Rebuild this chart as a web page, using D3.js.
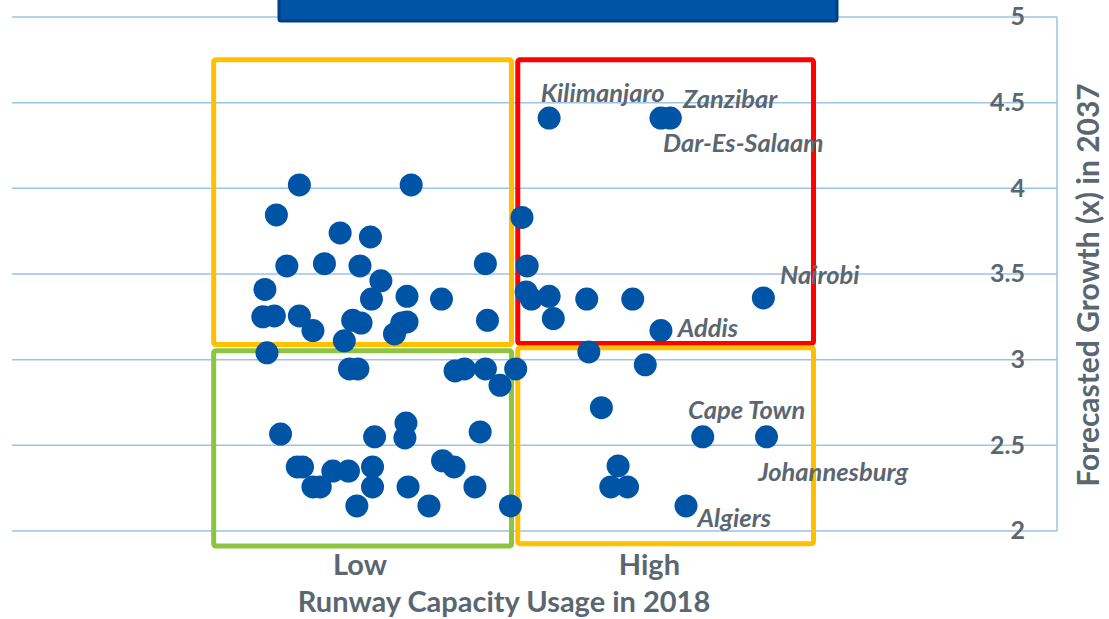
<!DOCTYPE html>
<html><head><meta charset="utf-8">
<script src="https://cdn.jsdelivr.net/npm/d3@7"></script>
<style>html,body{margin:0;padding:0;background:#fff;}svg{display:block;}</style>
</head><body>
<svg id="chart" width="1109" height="619"></svg>
<script>
// Runway capacity usage (arbitrary 0-100 units) vs forecasted growth
const pointX = [27.5,38.2,25.3,31.4,34.3,26.3,29.9,33.3,45.3,35.3,24.2,34.4,37.8,41.1,24.0,25.1,27.5,28.8,32.6,33.4,37.3,37.8,36.6,45.5,31.8,24.4,
  48.8,49.3,49.2,49.7,51.4,55.0,59.4,71.9,51.8,62.1,55.2,60.6,51.4,62.1,63.0,
  32.3,33.1,42.4,43.3,45.3,46.7,48.2,25.7,37.7,34.7,37.6,44.8,27.3,27.8,30.7,32.2,34.5,41.2,42.3,28.8,29.5,34.5,37.9,44.3,33.0,39.9,47.7,
  56.4,66.1,72.2,58.0,57.3,58.9,64.5];
const pointY = [4.02,4.02,3.845,3.74,3.716,3.547,3.56,3.547,3.56,3.46,3.41,3.354,3.37,3.354,3.25,3.255,3.255,3.17,3.23,3.214,3.214,3.22,3.15,3.23,3.11,3.04,
  3.83,3.547,3.395,3.354,3.37,3.354,3.354,3.36,3.24,3.17,3.045,2.97,4.41,4.41,4.41,
  2.946,2.946,2.934,2.946,2.946,2.85,2.946,2.566,2.63,2.55,2.543,2.578,2.374,2.374,2.35,2.35,2.374,2.41,2.374,2.257,2.257,2.257,2.257,2.257,2.146,2.146,2.146,
  2.72,2.55,2.55,2.38,2.257,2.257,2.146];

const labelNames = ["Kilimanjaro","Zanzibar","Dar-Es-Salaam","Nairobi","Addis","Cape Town","Johannesburg","Algiers"];
const labelX = [50.6,64.2,62.3,73.5,63.7,64.7,71.4,65.6];
const labelY = [4.504,4.469,4.212,3.442,3.133,2.654,2.292,2.023];

const yTicks = [2,2.5,3,3.5,4,4.5,5];
const xCategories = ["Low","High"];
const xCategoryPos = [33.3,61.0];

// quadrant boxes in data units: [x0,x1,y0,y1]
const boxNames = ["lowHighGrowth","highHighGrowth","lowLowGrowth","highLowGrowth"];
const boxX0 = [19.3,48.4,19.3,48.4];
const boxX1 = [47.8,76.7,47.8,76.7];
const boxY0 = [3.088,3.095,1.912,1.926];
const boxY1 = [4.75,4.75,3.052,3.07];
const boxColors = ["#ffc000","#ff0000","#8dc540","#ffc000"];

const xTitle = "Runway Capacity Usage in 2018";
const yTitle = "Forecasted Growth (x) in 2037";

const svg = d3.select("#chart");
const textColor = "#5b6770";
const font = "Lato, 'Open Sans', sans-serif";

const x = d3.scaleLinear().domain([0,100]).range([12,1057]);
const y = d3.scaleLinear().domain([2,5]).range([531,17]);

// gridlines
svg.append("g").selectAll("line").data(yTicks).join("line")
  .attr("x1", x(0)).attr("x2", x(100))
  .attr("y1", d=>y(d)).attr("y2", d=>y(d))
  .attr("stroke", "#9dc3e6").attr("stroke-width", 1.5);

// right axis line
svg.append("line").attr("x1", x(100)).attr("x2", x(100)).attr("y1", y(5)).attr("y2", y(2))
  .attr("stroke", "#9dc3e6").attr("stroke-width", 1.5);

// tick labels
svg.append("g").selectAll("text").data(yTicks).join("text")
  .attr("x", 1025).attr("y", d=>y(d)+2)
  .attr("text-anchor","end").attr("dominant-baseline","middle")
  .attr("font-family", font).attr("font-weight","bold").attr("font-size", 25)
  .attr("fill", textColor)
  .text(d=>d);

// title bar at top
svg.append("rect").attr("x", 279).attr("y", -10).attr("width", 558).attr("height", 31)
  .attr("rx", 2).attr("fill", "#0054a6").attr("stroke", "#003f80").attr("stroke-width", 3);

// quadrant boxes
svg.append("g").selectAll("rect").data(boxNames).join("rect")
  .attr("x", (d,i)=>x(boxX0[i])).attr("y", (d,i)=>y(boxY1[i]))
  .attr("width", (d,i)=>x(boxX1[i])-x(boxX0[i]))
  .attr("height", (d,i)=>y(boxY0[i])-y(boxY1[i]))
  .attr("rx", 2).attr("fill","none")
  .attr("stroke", (d,i)=>boxColors[i]).attr("stroke-width", 5);

// points
svg.append("g").selectAll("circle").data(pointX).join("circle")
  .attr("cx", d=>x(d)).attr("cy", (d,i)=>y(pointY[i]))
  .attr("r", 11.5).attr("fill", "#0054a6");

// labels
svg.append("g").selectAll("text").data(labelNames).join("text")
  .attr("x", (d,i)=>x(labelX[i])).attr("y", (d,i)=>y(labelY[i]))
  .attr("font-family", font).attr("font-weight","bold").attr("font-style","italic")
  .attr("font-size", 25.5).attr("fill", textColor)
  .text(d=>d);

// x categories
svg.append("g").selectAll("text").data(xCategories).join("text")
  .attr("x", (d,i)=>x(xCategoryPos[i])).attr("y", 575)
  .attr("text-anchor","middle")
  .attr("font-family", font).attr("font-weight","bold").attr("font-size", 29)
  .attr("fill", textColor).text(d=>d);

// axis titles
svg.append("text").attr("x", 504).attr("y", 612).attr("text-anchor","middle")
  .attr("font-family", font).attr("font-weight","bold").attr("font-size", 29)
  .attr("fill", textColor).text(xTitle);

svg.append("text").attr("transform","translate(1099,285) rotate(-90)")
  .attr("text-anchor","middle")
  .attr("font-family", font).attr("font-weight","bold").attr("font-size", 30)
  .attr("fill", textColor).text(yTitle);
</script>
</body></html>
